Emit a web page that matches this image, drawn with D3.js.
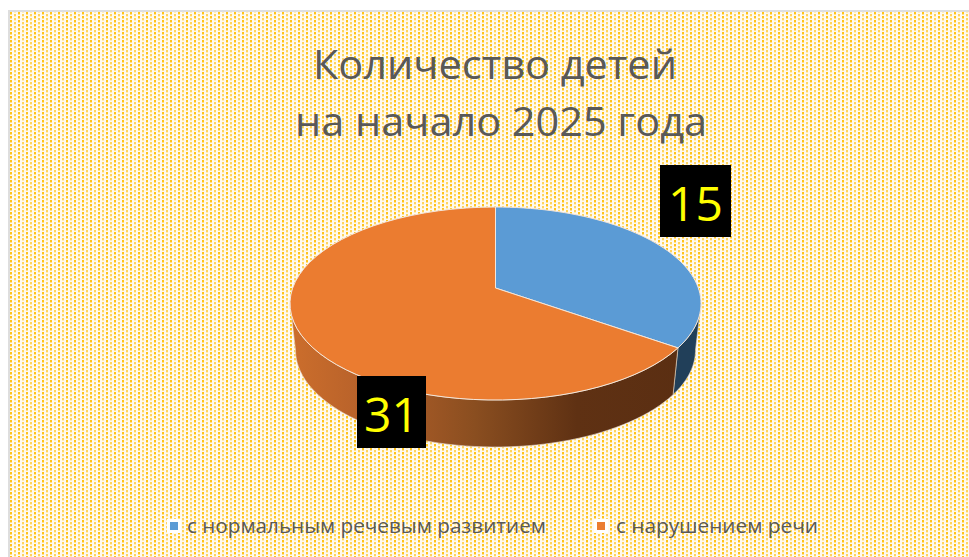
<!DOCTYPE html>
<html><head><meta charset="utf-8">
<script src="https://cdn.jsdelivr.net/npm/d3@7"></script>
<style>html,body{margin:0;padding:0;background:#fff;overflow:hidden}svg{display:block}</style>
</head><body><svg id="c" width="969" height="557"></svg>
<script>
const categories = ["с нормальным речевым развитием", "с нарушением речи"];
const values = [15, 31];
const titleLines = ["Количество детей", "на начало 2025 года"];
const colors = ["#5b9bd5", "#eb7c30"];

const svg = d3.select("#c");
const defs = svg.append("defs");
const pat = defs.append("pattern").attr("id","dots").attr("patternUnits","userSpaceOnUse")
  .attr("x",10).attr("y",12).attr("width",8).attr("height",4);
pat.append("rect").attr("width",8).attr("height",4).attr("fill","#fffaf0");
pat.append("rect").attr("x",0).attr("y",0).attr("width",2).attr("height",2).attr("fill","#ffc31a");
pat.append("rect").attr("x",0).attr("y",2).attr("width",2).attr("height",1).attr("fill","#ffe08c");
pat.append("rect").attr("x",4).attr("y",2).attr("width",2).attr("height",2).attr("fill","#ffd45c");
pat.append("rect").attr("x",4).attr("y",0).attr("width",2).attr("height",1).attr("fill","#ffeebb");
const g1 = defs.append("linearGradient").attr("id","wall").attr("gradientUnits","userSpaceOnUse")
  .attr("x1",290).attr("x2",700).attr("y1",0).attr("y2",0);
[[0,"#cc6e2c"],[.2,"#b5602a"],[.45,"#8a4e20"],[.7,"#5f3113"],[1,"#5a2e12"]].forEach(s=>g1.append("stop").attr("offset",s[0]).attr("stop-color",s[1]));

svg.append("rect").attr("width",969).attr("height",557).attr("fill","#fff");
svg.append("rect").attr("x",8).attr("y",10).attr("width",961).attr("height",547).attr("fill","#dedede");
svg.append("rect").attr("x",10).attr("y",12).attr("width",959).attr("height",545).attr("fill","url(#dots)");

const title = svg.append("g").attr("font-family","'Open Sans'").attr("fill","#595959").attr("font-size",41);
title.selectAll("text").data(titleLines).join("text")
  .attr("x",(d,i)=>[495,501][i]).attr("y",(d,i)=>[79,136][i])
  .attr("text-anchor","middle").attr("textLength",(d,i)=>[364,412][i]).attr("lengthAdjust","spacingAndGlyphs").text(d=>d);

// pie geometry
const topE = {cx:495.5,cy:303.5,rx:205.5,ry:96.5}, botE={cx:495.5,cy:350,rx:200,ry:97};
const apex=[495.5,288];
const pt=(e,a)=>[e.cx+e.rx*Math.sin(a), e.cy-e.ry*Math.cos(a)];
const arcs=d3.pie().sort(null)(values);
const line=d3.line();
const sample=(e,a0,a1)=>d3.range(0,61).map(i=>pt(e,a0+(a1-a0)*i/60));
const wallRange=[[Math.PI/2,arcs[0].endAngle],[arcs[1].startAngle,1.5*Math.PI]];
const wallFill=["#213f59","url(#wall)"];
svg.append("g").selectAll("path").data(arcs).join("path")
  .attr("d",(d,i)=>{const [a,b]=wallRange[i];return line([...sample(topE,a,b),...sample(botE,a,b).reverse()])+"Z";})
  .attr("fill",(d,i)=>wallFill[i]).attr("stroke","#e8d8c8").attr("stroke-width",.6);
svg.append("g").selectAll("path").data(arcs).join("path")
  .attr("d",d=>line([apex,...sample(topE,d.startAngle,d.endAngle)])+"Z")
  .attr("fill",(d,i)=>colors[i]).attr("stroke","#f4e6da").attr("stroke-width",1).attr("stroke-linejoin","round");

// labels
const boxes=[{x:660,y:165,w:71,h:72},{x:357,y:376,w:69,h:72}];
const lab=svg.append("g").selectAll("g").data(values).join("g");
lab.append("rect").attr("x",(d,i)=>boxes[i].x).attr("y",(d,i)=>boxes[i].y).attr("width",(d,i)=>boxes[i].w).attr("height",(d,i)=>boxes[i].h).attr("fill","#000");
lab.append("text").attr("x",(d,i)=>boxes[i].x+boxes[i].w/2).attr("y",(d,i)=>boxes[i].y+55.5)
  .attr("text-anchor","middle").attr("font-family","'Open Sans'").attr("font-size",48).attr("fill","#ffff00").text(d=>d);

// legend
const lx=[170,597], tx=[187,616], tl=[359,202];
const leg=svg.append("g").selectAll("g").data(categories).join("g");
leg.append("rect").attr("x",(d,i)=>lx[i]-3).attr("y",519).attr("width",14).attr("height",14).attr("fill","#fff");
leg.append("rect").attr("x",(d,i)=>lx[i]).attr("y",522).attr("width",8).attr("height",8).attr("fill",(d,i)=>colors[i]);
leg.append("text").attr("x",(d,i)=>tx[i]).attr("y",533).attr("font-family","'Open Sans'").attr("font-size",20.5).attr("fill","#595959")
  .attr("textLength",(d,i)=>tl[i]).attr("lengthAdjust","spacingAndGlyphs").text(d=>d);
</script></body></html>
